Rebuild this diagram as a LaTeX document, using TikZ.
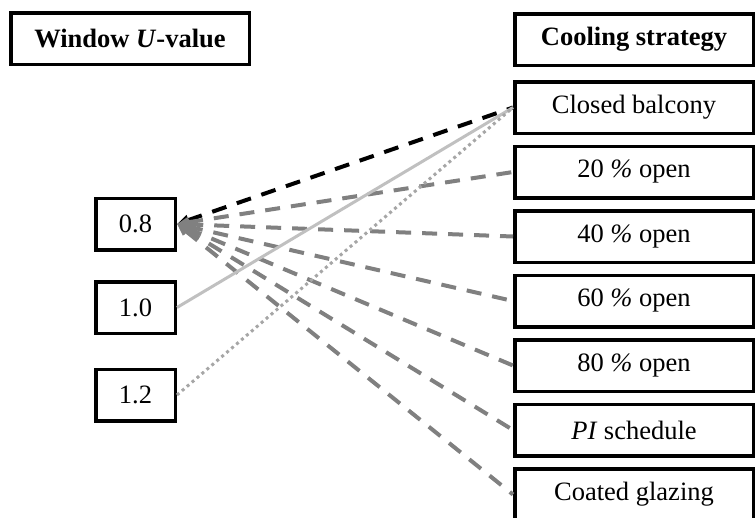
\documentclass[tikz,border=0pt]{standalone}
\usepackage{fontspec}
\setmainfont{Liberation Serif}
\usetikzlibrary{arrows.meta}
\definecolor{dashgray}{HTML}{808080}
\definecolor{solidgray}{HTML}{C0C0C0}
\definecolor{dotgray}{HTML}{A6A6A6}
\tikzset{
  box/.style={draw=black, line width=3.5pt, rectangle, inner sep=0pt,
    minimum height=51.5pt, font=\fontsize{26.5}{30}\selectfont},
  headbox/.style={box, minimum width=238.5pt, font=\fontsize{26.5}{30}\selectfont\bfseries},
  optbox/.style={box, minimum width=238.5pt},
  valbox/.style={box, minimum width=79.5pt},
  link/.style={line width=4pt, dash pattern=on 15pt off 11pt,
    {Triangle[length=12pt,width=10pt]}-},
  blacklink/.style={link, draw=black},
  graylink/.style={link, draw=dashgray},
  solidlink/.style={line width=3pt, draw=solidgray},
  dotlink/.style={line width=3pt, draw=dotgray, dash pattern=on 3pt off 3.5pt}
}
\begin{document}
\begin{tikzpicture}[x=1pt, y=-1pt]
\useasboundingbox (0,0) rectangle (755,517);

% headings
\node[headbox] (hu) at (130,38.5) {Window \textit{U}-value};
\node[headbox] (hc) at (634,39.5) {Cooling strategy};

% window U-values
\node[valbox] (u08) at (135.5,224) {0.8};
\node[valbox] (u10) at (135.5,307.5) {1.0};
\node[valbox] (u12) at (135.5,395) {1.2};

% cooling strategies
\node[optbox] (s0) at (634,107.5) {Closed balcony};
\node[optbox] (s1) at (634,172) {20 \textit{\%} open};
\node[optbox] (s2) at (634,236.5) {40 \textit{\%} open};
\node[optbox] (s3) at (634,301) {60 \textit{\%} open};
\node[optbox] (s4) at (634,365.5) {80 \textit{\%} open};
\node[optbox] (s5) at (634,430) {\textit{PI} schedule};
\node[optbox] (s6) at (634,494.5) {Coated glazing};

% connectors
\draw[blacklink] (u08.east) -- (s0.west);
\foreach \s in {s1,s2,s3,s4,s5,s6}
  \draw[graylink] (u08.east) -- (\s.west);
\draw[solidlink] (u10.east) -- (s0.west);
\draw[dotlink] (u12.east) -- (s0.west);
\end{tikzpicture}
\end{document}
